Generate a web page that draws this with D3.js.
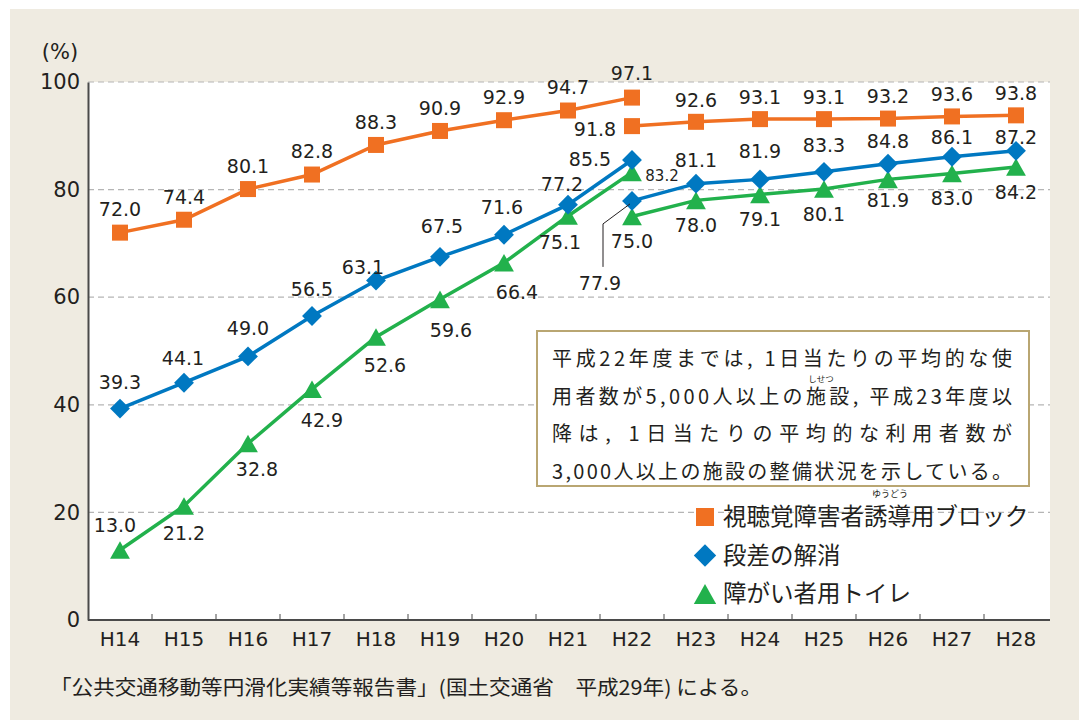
<!DOCTYPE html>
<html>
<head>
<meta charset="utf-8">
<script src="https://cdn.jsdelivr.net/npm/d3@7"></script>
<style>
  body { margin: 0; background: #fff; }
  svg text { font-family: "Noto Sans CJK JP", "Noto Sans", sans-serif; fill: #231f20; }
  svg text.num { font-family: "DejaVu Sans", sans-serif; }
</style>
</head>
<body>
<svg id="chart" width="1079" height="722"></svg>
<script>
var svg = d3.select('#chart');

// categories
var years = ['H14','H15','H16','H17','H18','H19','H20','H21','H22','H23','H24','H25','H26','H27','H28'];
var yearsBefore = ['H14','H15','H16','H17','H18','H19','H20','H21','H22'];
var yearsAfter = ['H22','H23','H24','H25','H26','H27','H28'];
var yTicks = [0, 20, 40, 60, 80, 100];

// series values (%)
var blockBefore = [72.0, 74.4, 80.1, 82.8, 88.3, 90.9, 92.9, 94.7, 97.1];
var blockAfter = [91.8, 92.6, 93.1, 93.1, 93.2, 93.6, 93.8];
var stepBefore = [39.3, 44.1, 49.0, 56.5, 63.1, 67.5, 71.6, 77.2, 85.5];
var stepAfter = [77.9, 81.1, 81.9, 83.3, 84.8, 86.1, 87.2];
var toiletBefore = [13.0, 21.2, 32.8, 42.9, 52.6, 59.6, 66.4, 75.1, 83.2];
var toiletAfter = [75.0, 78.0, 79.1, 80.1, 81.9, 83.0, 84.2];

var seriesNames = ['視聴覚障害者誘導用ブロック', '段差の解消', '障がい者用トイレ'];

// label offsets from each marker [dx, dy]
var blockOffB = [[0,-23],[0,-23],[0,-23],[0,-23],[0,-23],[0,-23],[0,-23],[0,-23],[0,-24]];
var blockOffA = [[-37,3],[0,-22],[0,-22],[0,-22],[0,-22],[0,-22],[0,-22]];
var stepOffB = [[0,-26],[-1,-25],[0,-28],[0,-27],[-13,-13],[2,-31],[-2,-28],[-6,-21],[-42,-1]];
var stepOffA = [[-32,82],[0,-24],[0,-28],[0,-27],[0,-23],[0,-20],[0,-14]];
var toiletOffB = [[-5,-25],[0,27],[9,26],[10,31],[9,28],[11,31],[13,29],[-8,26],[30,3]];
var toiletOffA = [[0,25],[0,25],[0,25],[0,25],[0,21],[0,25],[0,25]];

var colors = ['#f07022', '#0078c1', '#22b14c'];

var plot = {l: 88, r: 1048, t: 82, b: 620};

// background panel
svg.append('rect').attr('x', 10).attr('y', 9).attr('width', 1069).attr('height', 711).attr('fill', '#efebe1');
svg.append('rect').attr('x', plot.l).attr('y', plot.t).attr('width', plot.r - plot.l + 2).attr('height', plot.b - plot.t).attr('fill', '#fff');

var x = d3.scaleBand().domain(years).range([plot.l, plot.r]);
var y = d3.scaleLinear().domain([0, 100]).range([plot.b, plot.t]);
var cx = function(c) { return x(c) + x.bandwidth() / 2; };

// grid lines
svg.append('g').selectAll('line')
  .data(yTicks.filter(function(d) { return d > 0; })).enter()
  .append('line')
  .attr('x1', plot.l).attr('x2', plot.r + 2)
  .attr('y1', function(d) { return y(d); }).attr('y2', function(d) { return y(d); })
  .attr('stroke', '#b5b5b5').attr('stroke-width', 1.2).attr('stroke-dasharray', '6,4');

// y axis
var yAxis = svg.append('g').attr('transform', 'translate(' + plot.l + ',0)')
  .call(d3.axisLeft(y).tickValues(yTicks).tickSize(0).tickPadding(8));
yAxis.select('.domain').attr('stroke', '#4a4a4a').attr('stroke-width', 2);
yAxis.selectAll('text').attr('class', 'num').style('font-size', '21px').attr('fill', '#231f20');
svg.append('text').attr('class', 'num').attr('x', 60).attr('y', 59).attr('text-anchor', 'middle').style('font-size', '21px').text('(%)');

// x axis
var xAxis = svg.append('g').attr('transform', 'translate(0,' + plot.b + ')')
  .call(d3.axisBottom(x).tickSize(0).tickPadding(12));
xAxis.select('.domain').attr('stroke', '#4a4a4a').attr('stroke-width', 2).attr('d', 'M' + plot.l + ',0H' + (plot.r + 2));
xAxis.selectAll('text').attr('class', 'num').style('font-size', '20px').attr('fill', '#231f20');
svg.append('g').selectAll('line')
  .data(years.slice(1)).enter()
  .append('line')
  .attr('x1', function(d) { return x(d); }).attr('x2', function(d) { return x(d); })
  .attr('y1', plot.b).attr('y2', plot.b - 6)
  .attr('stroke', '#4a4a4a').attr('stroke-width', 1);

// markers
function drawMarker(g, type, color, px, py, s) {
  if (type === 0) {
    g.append('rect').attr('x', px - s / 2).attr('y', py - s / 2).attr('width', s).attr('height', s).attr('fill', color);
  } else if (type === 1) {
    var h = s * 0.62;
    g.append('path').attr('d', 'M' + px + ',' + (py - h) + 'L' + (px + h) + ',' + py + 'L' + px + ',' + (py + h) + 'L' + (px - h) + ',' + py + 'Z').attr('fill', color);
  } else {
    var w = s * 0.62, hh = s * 0.55;
    g.append('path').attr('d', 'M' + px + ',' + (py - hh) + 'L' + (px + w) + ',' + (py + hh) + 'L' + (px - w) + ',' + (py + hh) + 'Z').attr('fill', color);
  }
}

var line = d3.line().x(function(d) { return cx(d[0]); }).y(function(d) { return y(d[1]); });

function drawSegment(cats, vals, offs, type, color) {
  var pts = cats.map(function(c, i) { return [c, vals[i]]; });
  var g = svg.append('g');
  g.append('path').datum(pts).attr('d', line).attr('fill', 'none').attr('stroke', color).attr('stroke-width', 3.5);
  pts.forEach(function(p) { drawMarker(g, type, color, cx(p[0]), y(p[1]), 16); });
  pts.forEach(function(p, i) {
    g.append('text').attr('class', 'num')
      .attr('x', cx(p[0]) + offs[i][0]).attr('y', y(p[1]) + offs[i][1])
      .attr('text-anchor', 'middle').attr('dy', '0.36em')
      .style('font-size', '19px')
      .text(d3.format('.1f')(p[1]));
  });
  return g;
}

drawSegment(yearsBefore, blockBefore, blockOffB, 0, colors[0]);
drawSegment(yearsAfter, blockAfter, blockOffA, 0, colors[0]);
drawSegment(yearsBefore, toiletBefore, toiletOffB, 2, colors[2]);
drawSegment(yearsAfter, toiletAfter, toiletOffA, 2, colors[2]);
drawSegment(yearsBefore, stepBefore, stepOffB, 1, colors[1]);
drawSegment(yearsAfter, stepAfter, stepOffA, 1, colors[1]);

// smaller 83.2 label
svg.selectAll('text').filter(function() { return d3.select(this).text() === '83.2'; }).style('font-size', '15px');

// leader line for 77.9
var lx = cx('H22'), ly = y(stepAfter[0]);
svg.append('path')
  .attr('d', 'M' + (lx - 2) + ',' + (ly + 3) + 'L' + (lx - 29) + ',' + (ly + 23) + 'V' + (ly + 66))
  .attr('fill', 'none').attr('stroke', '#231f20').attr('stroke-width', 1);

// note box
var noteLines = [
  '平成22年度までは, 1日当たりの平均的な使',
  '用者数が5,000人以上の施設, 平成23年度以',
  '降は, 1日当たりの平均的な利用者数が',
  '3,000人以上の施設の整備状況を示している。'
];
svg.append('rect').attr('x', 537).attr('y', 331).attr('width', 492).attr('height', 155)
  .attr('fill', '#fff').attr('stroke', '#b9a672').attr('stroke-width', 2);
noteLines.forEach(function(t, i) {
  svg.append('text').attr('x', 552).attr('y', 366 + i * 37.5)
    .attr('textLength', 460).attr('lengthAdjust', 'spacing')
    .style('font-size', '20px').text(t);
});
svg.append('text').attr('x', 821).attr('y', 382).attr('text-anchor', 'middle').style('font-size', '8.5px').text('しせつ');

// legend
var legend = svg.append('g');
seriesNames.forEach(function(name, i) {
  var ly2 = 517 + i * 38.5;
  drawMarker(legend, i, colors[i], 705, ly2, 18);
  legend.append('text').attr('x', 723).attr('y', ly2).attr('dy', '0.36em')
    .style('font-size', '23.5px').text(name);
});
legend.append('text').attr('x', 890).attr('y', 497).attr('text-anchor', 'middle').style('font-size', '9px').text('ゆうどう');

// source
svg.append('text').attr('x', 50).attr('y', 695).style('font-size', '20px')
  .attr('textLength', 712).attr('lengthAdjust', 'spacingAndGlyphs')
  .text('「公共交通移動等円滑化実績等報告書」(国土交通省　平成29年) による。');
</script>
</body>
</html>
